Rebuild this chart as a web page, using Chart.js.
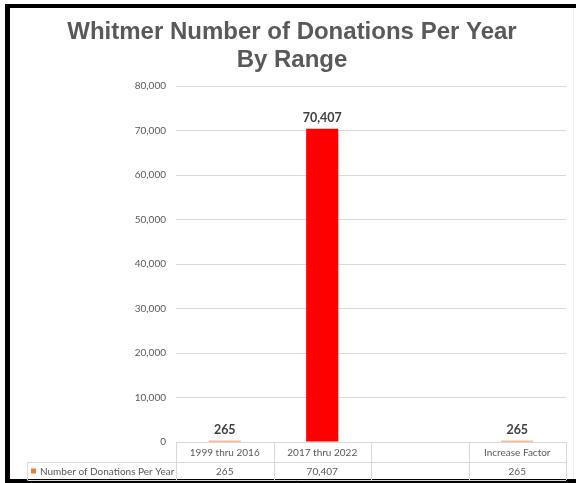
<!DOCTYPE html>
<html>
<head>
<meta charset="utf-8">
<script src="https://cdn.jsdelivr.net/npm/chart.js"></script>
</head>
<body style="margin:0;padding:0;background:#fff">
<canvas id="canvas" width="576" height="483"></canvas>
<script>
const categories = ['1999 thru 2016', '2017 thru 2022', '', 'Increase Factor'];
const donations = [265, 70407, null, 265];
const barColors = ['#ED7D31', '#FF0000', '#ED7D31', '#ED7D31'];
const seriesName = 'Number of Donations Per Year';
const titleLines = ['Whitmer Number of Donations Per Year', 'By Range'];
const yMax = 80000;
const yStep = 10000;

const bodyFont = 'Lato';
const fmt = v => v == null ? '' : v.toLocaleString('en-US');

// white page with the black frame of the screenshot
const framePlugin = {
    id: 'frame',
    beforeDraw(chart) {
        let ctx = chart.ctx;
        ctx.save();
        ctx.fillStyle = '#fff';
        ctx.fillRect(0, 0, chart.width, chart.height);
        ctx.fillStyle = '#000';
        ctx.fillRect(5, 4, 5, chart.height - 4);
        ctx.fillRect(5, 4, chart.width - 5, 4);
        ctx.fillRect(5, 479, chart.width - 5, 4);
        ctx.fillStyle = '#eeeeee';
        ctx.fillRect(573, 8, 1, 471);
        ctx.restore();
    }
};

// value labels over the bars
const labelPlugin = {
    id: 'barLabels',
    afterDatasetsDraw(chart) {
        let ctx = chart.ctx;
        let meta = chart.getDatasetMeta(0);
        ctx.save();
        ctx.font = `bold 12.5px ${bodyFont}`;
        ctx.fillStyle = '#404040';
        ctx.textAlign = 'center';
        ctx.textBaseline = 'bottom';
        meta.data.forEach((bar, i) => {
            let v = donations[i];
            if (v == null) return;
            ctx.fillText(fmt(v), bar.x, bar.y - 5);
        });
        ctx.restore();
    }
};

// Excel style data table under the plot
const tablePlugin = {
    id: 'dataTable',
    afterDraw(chart) {
        let ctx = chart.ctx;
        let x = chart.scales.x;
        let area = chart.chartArea;
        let colW = (area.right - area.left) / categories.length;
        let top = area.bottom, mid = top + 20, bot = mid + 18;
        let leftEdge = 27.5;
        ctx.save();
        ctx.strokeStyle = '#d9d9d9';
        ctx.lineWidth = 1;
        ctx.beginPath();
        ctx.moveTo(area.left, top + 0.5); ctx.lineTo(area.right, top + 0.5);
        ctx.moveTo(leftEdge, mid + 0.5); ctx.lineTo(area.right, mid + 0.5);
        ctx.moveTo(leftEdge, bot + 0.5); ctx.lineTo(area.right, bot + 0.5);
        ctx.moveTo(leftEdge, mid); ctx.lineTo(leftEdge, bot);
        for (let i = 0; i <= categories.length; i++) {
            let px = Math.round(area.left + i * colW) + 0.5;
            ctx.moveTo(px, top); ctx.lineTo(px, bot);
        }
        ctx.stroke();

        ctx.font = `10px ${bodyFont}`;
        ctx.fillStyle = '#595959';
        ctx.textAlign = 'center';
        ctx.textBaseline = 'middle';
        categories.forEach((c, i) => {
            let cx = x.getPixelForValue(i);
            ctx.fillText(c, cx, (top + mid) / 2 + 1);
            ctx.fillText(fmt(donations[i]), cx, (mid + bot) / 2 + 1);
        });
        ctx.fillStyle = '#ED7D31';
        ctx.fillRect(31, (mid + bot) / 2 - 2.5, 5, 5);
        ctx.fillStyle = '#595959';
        ctx.textAlign = 'left';
        ctx.fillText(seriesName, 40, (mid + bot) / 2 + 1);
        ctx.restore();
    }
};

new Chart(document.getElementById('canvas'), {
    type: 'bar',
    data: {
        labels: categories,
        datasets: [{
            label: seriesName,
            data: donations,
            backgroundColor: barColors,
            borderWidth: 0,
            barPercentage: 0.33,
            categoryPercentage: 1
        }]
    },
    options: {
        responsive: false,
        animation: false,
        layout: {padding: {left: 18, right: 10, top: 10, bottom: 41}},
        plugins: {
            legend: {display: false},
            tooltip: {enabled: false},
            title: {
                display: true,
                text: titleLines,
                color: '#595959',
                font: {family: 'Liberation Sans', size: 24, weight: 'bold', lineHeight: 1.17},
                padding: {top: 8, bottom: 12}
            }
        },
        scales: {
            x: {display: false},
            y: {
                min: 0,
                max: yMax,
                afterFit(scale) { scale.width = 158; },
                ticks: {
                    stepSize: yStep,
                    padding: 10,
                    color: '#595959',
                    font: {family: bodyFont, size: 10},
                    callback: v => fmt(v)
                },
                grid: {color: '#d9d9d9', drawTicks: false},
                border: {display: false}
            }
        }
    },
    plugins: [framePlugin, labelPlugin, tablePlugin]
});
</script>
</body>
</html>
